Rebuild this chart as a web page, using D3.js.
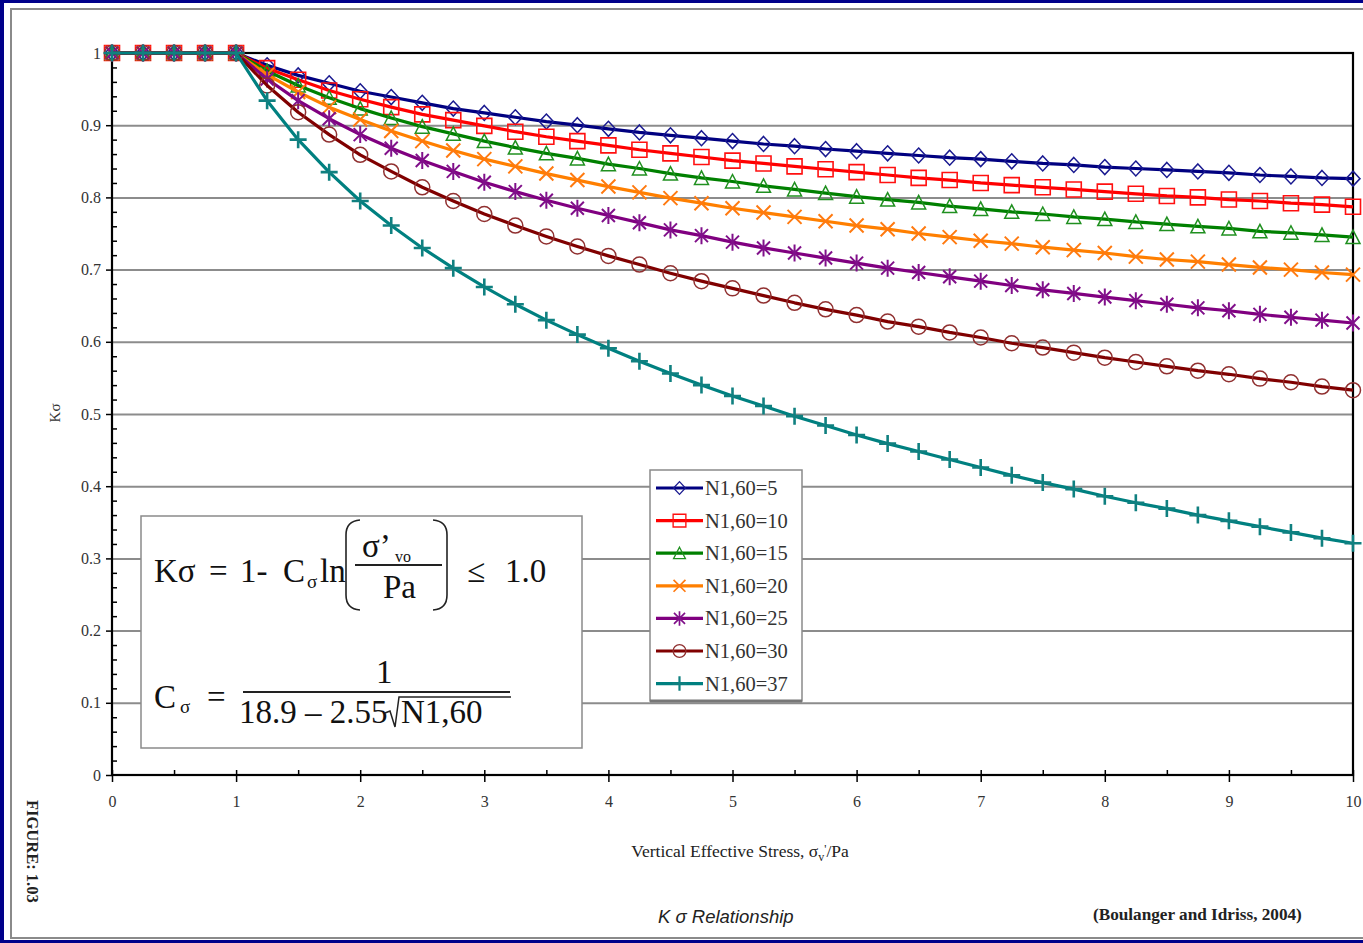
<!DOCTYPE html>
<html><head><meta charset="utf-8">
<script src="https://cdn.jsdelivr.net/npm/d3@7"></script>
<style>html,body{margin:0;padding:0;background:#00008a;overflow:hidden}</style>
</head><body>
<svg id="c" width="1363" height="943"></svg>
<script>
const xValues = [0,0.25,0.5,0.75,1,1.25,1.5,1.75,2,2.25,2.5,2.75,3,3.25,3.5,3.75,4,4.25,4.5,4.75,5,5.25,5.5,5.75,6,6.25,6.5,6.75,7,7.25,7.5,7.75,8,8.25,8.5,8.75,9,9.25,9.5,9.75,10];
const seriesNames = ["N1,60=5","N1,60=10","N1,60=15","N1,60=20","N1,60=25","N1,60=30","N1,60=37"];
const k5  = [1,1,1,1,1,.983,.969,.958,.947,.939,.931,.923,.917,.911,.905,.900,.895,.890,.886,.882,.878,.874,.871,.867,.864,.861,.858,.855,.853,.850,.847,.845,.842,.840,.838,.836,.834,.831,.829,.827,.826];
const k10 = [1,1,1,1,1,.979,.963,.948,.936,.925,.915,.907,.899,.891,.884,.878,.872,.866,.861,.856,.851,.847,.843,.839,.835,.831,.827,.824,.820,.817,.814,.811,.808,.805,.802,.800,.797,.795,.792,.790,.787];
const k15 = [1,1,1,1,1,.975,.955,.938,.923,.910,.898,.888,.878,.869,.861,.854,.846,.840,.833,.827,.822,.816,.811,.806,.801,.797,.793,.788,.784,.780,.777,.773,.770,.766,.763,.760,.757,.753,.751,.748,.745];
const k20 = [1,1,1,1,1,.970,.946,.925,.908,.892,.878,.865,.853,.843,.833,.824,.815,.807,.799,.792,.785,.779,.773,.767,.761,.756,.750,.745,.740,.736,.731,.727,.723,.718,.714,.711,.707,.703,.700,.696,.693];
const k25 = [1,1,1,1,1,.964,.934,.909,.887,.868,.851,.836,.821,.808,.796,.785,.775,.765,.755,.747,.738,.730,.723,.716,.709,.702,.696,.690,.684,.678,.672,.667,.662,.657,.652,.647,.643,.638,.634,.630,.626];
const k30 = [1,1,1,1,1,.955,.918,.887,.859,.836,.814,.795,.777,.761,.746,.732,.719,.707,.695,.684,.674,.664,.654,.645,.637,.628,.621,.613,.606,.598,.592,.585,.578,.572,.566,.560,.555,.549,.544,.538,.533];
const k37 = [1,1,1,1,1,.934,.880,.835,.795,.761,.730,.702,.676,.652,.630,.610,.591,.573,.556,.540,.525,.511,.497,.484,.471,.459,.448,.437,.426,.415,.405,.396,.386,.377,.369,.360,.352,.344,.336,.328,.321];
const seriesValues = [k5,k10,k15,k20,k25,k30,k37];
const xTickLabels = ["0","1","2","3","4","5","6","7","8","9","10"];
const yTickLabels = ["0","0.1","0.2","0.3","0.4","0.5","0.6","0.7","0.8","0.9","1"];

const colors = ["#000080","#ff0000","#008000","#ff7f00","#800080","#800000","#008080"];
const markerColors = ["#1a1a90","#ff1010","#209020","#ff7a10","#80108a","#903030","#108080"];
const markerPaths = [
  "M0,-7.5L7,0L0,7.5L-7,0Z",
  "M-7.5,-7.5H7.5V7.5H-7.5Z",
  "M0,-7L7,6.5H-7Z",
  "M-7,-7L7,7M-7,7L7,-7",
  "M-6.5,-6.5L6.5,6.5M-6.5,6.5L6.5,-6.5M0,-8.5V8.5",
  "M7.5,0A7.5,7.5 0 1,1 -7.5,0A7.5,7.5 0 1,1 7.5,0Z",
  "M-8.5,0H8.5M0,-8.5V8.5"
];
const markerWidths = [1.5,1.6,1.5,2,2,1.5,2.6];

const svg = d3.select("#c");
const serif = "'Liberation Serif','Times New Roman',serif";

// panel
svg.append("rect").attr("x",4).attr("y",3).attr("width",1363).attr("height",937).attr("fill","#fff");
svg.append("path").attr("d","M1363,9H11V938H1363").attr("fill","none").attr("stroke","#8a8a8a").attr("stroke-width",2);

const x = d3.scaleLinear().domain([0,10]).range([112,1353]);
const y = d3.scaleLinear().domain([0,1]).range([775,53]);

// gridlines
const gridVals = d3.range(1,10).map(i=>i/10);
svg.append("g").attr("transform",`translate(${x(0)},0)`)
  .call(d3.axisLeft(y).tickValues(gridVals).tickSize(-(x(10)-x(0))).tickFormat(""))
  .call(g=>g.select(".domain").remove())
  .call(g=>g.selectAll("line").attr("stroke","#8c8c8c").attr("stroke-width",2));

// y axis major ticks + labels
const yAxis = svg.append("g").attr("transform",`translate(${x(0)},0)`)
  .call(d3.axisLeft(y).tickValues(d3.range(0,11).map(i=>i/10)).tickSize(6).tickPadding(5).tickFormat((d,i)=>yTickLabels[i]));
yAxis.selectAll("line").attr("stroke","#000").attr("stroke-width",1.5);
yAxis.selectAll("text").attr("font-family",serif).attr("font-size",16).attr("fill","#333");
yAxis.select(".domain").remove();
// y minor ticks inward
const yMinor = d3.range(0,51).map(i=>i/50).filter((d,i)=>i%5!==0);
svg.append("g").attr("transform",`translate(${x(0)},0)`)
  .call(d3.axisLeft(y).tickValues(yMinor).tickSize(-5).tickFormat(""))
  .call(g=>g.select(".domain").remove())
  .call(g=>g.selectAll("line").attr("stroke","#000").attr("stroke-width",1.5));

// x axis
const xAxis = svg.append("g").attr("transform",`translate(0,${y(0)})`)
  .call(d3.axisBottom(x).tickValues(d3.range(0,11)).tickSize(7).tickPadding(14).tickFormat((d,i)=>xTickLabels[i]));
xAxis.selectAll("line").attr("stroke","#000").attr("stroke-width",1.5);
xAxis.selectAll("text").attr("font-family",serif).attr("font-size",16).attr("fill","#333");
xAxis.select(".domain").remove();
svg.append("g").attr("transform",`translate(0,${y(0)})`)
  .call(d3.axisBottom(x).tickValues(d3.range(0,11)).tickSize(-5).tickFormat(""))
  .call(g=>g.select(".domain").remove())
  .call(g=>g.selectAll("line").attr("stroke","#000").attr("stroke-width",1.5));
svg.append("g").attr("transform",`translate(0,${y(0)})`)
  .call(d3.axisBottom(x).tickValues(d3.range(0,10).map(i=>i+0.5)).tickSize(-5).tickFormat(""))
  .call(g=>g.select(".domain").remove())
  .call(g=>g.selectAll("line").attr("stroke","#000").attr("stroke-width",1.5));

// plot frame
svg.append("rect").attr("x",x(0)).attr("y",y(1)).attr("width",x(10)-x(0)).attr("height",y(0)-y(1))
  .attr("fill","none").attr("stroke","#000").attr("stroke-width",2.2);

// series
const line = d3.line().x((d,i)=>x(xValues[i])).y(d=>y(d));
seriesValues.forEach((vals,s)=>{
  const g = svg.append("g");
  g.append("path").attr("d",line(vals)).attr("fill","none").attr("stroke",colors[s]).attr("stroke-width",3.2).attr("stroke-linejoin","round");
  g.selectAll("path.m").data(vals).enter().append("path").attr("class","m")
    .attr("d",markerPaths[s]).attr("transform",(d,i)=>`translate(${x(xValues[i])},${y(d)})`)
    .attr("fill","none").attr("stroke",markerColors[s]).attr("stroke-width",markerWidths[s]);
});

// axis titles
svg.append("text").attr("transform","translate(60,413) rotate(-90)").attr("text-anchor","middle")
  .attr("font-family",serif).attr("font-size",15).attr("fill","#333").text("Kσ");
const xt = svg.append("text").attr("x",740).attr("y",857).attr("text-anchor","middle")
  .attr("font-family",serif).attr("font-size",17.5).attr("fill","#222");
xt.append("tspan").text("Vertical Effective Stress, σ");
xt.append("tspan").attr("font-size",12).attr("dy",4).text("v");
xt.append("tspan").attr("font-size",12).attr("dy",-8).text("'");
xt.append("tspan").attr("dy",4).text("/Pa");

// legend
const lg = svg.append("g");
lg.append("rect").attr("x",650).attr("y",470).attr("width",152).attr("height",231).attr("fill","#fff").attr("stroke","#8a8a8a").attr("stroke-width",1.5);
lg.append("line").attr("x1",650).attr("x2",802).attr("y1",701).attr("y2",701).attr("stroke","#777").attr("stroke-width",3);
seriesNames.forEach((n,s)=>{
  const cy = 488 + s*32.6;
  lg.append("line").attr("x1",656).attr("x2",703).attr("y1",cy).attr("y2",cy).attr("stroke",colors[s]).attr("stroke-width",3.2);
  lg.append("path").attr("d",markerPaths[s]).attr("transform",`translate(679.5,${cy}) scale(0.85)`)
    .attr("fill","none").attr("stroke",markerColors[s]).attr("stroke-width",markerWidths[s]);
  lg.append("text").attr("x",705).attr("y",cy+7).attr("font-family",serif).attr("font-size",20.5).attr("fill","#333").text(n);
});

// formula box
const fb = svg.append("g").attr("font-family",serif).attr("fill","#111");
fb.append("rect").attr("x",141).attr("y",516).attr("width",441).attr("height",232).attr("fill","#fff").attr("stroke","#8a8a8a").attr("stroke-width",1.5);
const fs = 33;
fb.append("text").attr("x",154).attr("y",582).attr("font-size",fs).text("Kσ");
fb.append("text").attr("x",209).attr("y",582).attr("font-size",fs).text("=");
fb.append("text").attr("x",240).attr("y",582).attr("font-size",fs).text("1-");
fb.append("text").attr("x",283).attr("y",582).attr("font-size",fs).text("C");
fb.append("text").attr("x",307).attr("y",588).attr("font-size",19).text("σ");
fb.append("text").attr("x",320).attr("y",582).attr("font-size",fs).text("ln");
fb.append("path").attr("d","M360,520Q346,521 346,535L346,595Q346,609 360,610").attr("fill","none").attr("stroke","#222").attr("stroke-width",1.6);
fb.append("path").attr("d","M433,520Q447,521 447,535L447,595Q447,609 433,610").attr("fill","none").attr("stroke","#222").attr("stroke-width",1.6);
fb.append("text").attr("x",362).attr("y",557).attr("font-size",fs).text("σ’");
fb.append("text").attr("x",395).attr("y",562).attr("font-size",16).text("vo");
fb.append("line").attr("x1",355).attr("x2",442).attr("y1",565).attr("y2",565).attr("stroke","#222").attr("stroke-width",1.8);
fb.append("text").attr("x",383).attr("y",598).attr("font-size",fs).text("Pa");
fb.append("text").attr("x",467).attr("y",582).attr("font-size",fs).text("≤");
fb.append("text").attr("x",505).attr("y",582).attr("font-size",fs).text("1.0");

fb.append("text").attr("x",154).attr("y",708).attr("font-size",fs).text("C");
fb.append("text").attr("x",180).attr("y",713).attr("font-size",19).text("σ");
fb.append("text").attr("x",207).attr("y",708).attr("font-size",fs).text("=");
fb.append("text").attr("x",376).attr("y",683).attr("font-size",fs).text("1");
fb.append("line").attr("x1",243).attr("x2",510).attr("y1",692).attr("y2",692).attr("stroke","#222").attr("stroke-width",1.8);
fb.append("text").attr("x",239).attr("y",723).attr("font-size",fs).text("18.9 – 2.55");
fb.append("path").attr("d","M385,713L390,711L395,727L399,697H511").attr("fill","none").attr("stroke","#222").attr("stroke-width",1.5);
fb.append("text").attr("x",401).attr("y",723).attr("font-size",fs).text("N1,60");

// footer texts
svg.append("text").attr("transform","translate(27,800) rotate(90)").attr("font-family",serif).attr("font-weight","bold")
  .attr("font-size",16.5).attr("fill","#222").text("FIGURE: 1.03");
svg.append("text").attr("x",658).attr("y",923).attr("font-family","'Liberation Sans',Arial,sans-serif").attr("font-style","italic")
  .attr("font-size",18.5).attr("fill","#222").text("K σ Relationship");
svg.append("text").attr("x",1093).attr("y",920).attr("font-family",serif).attr("font-weight","bold")
  .attr("font-size",17.2).attr("fill","#222").text("(Boulanger and Idriss, 2004)");
</script>
</body></html>
